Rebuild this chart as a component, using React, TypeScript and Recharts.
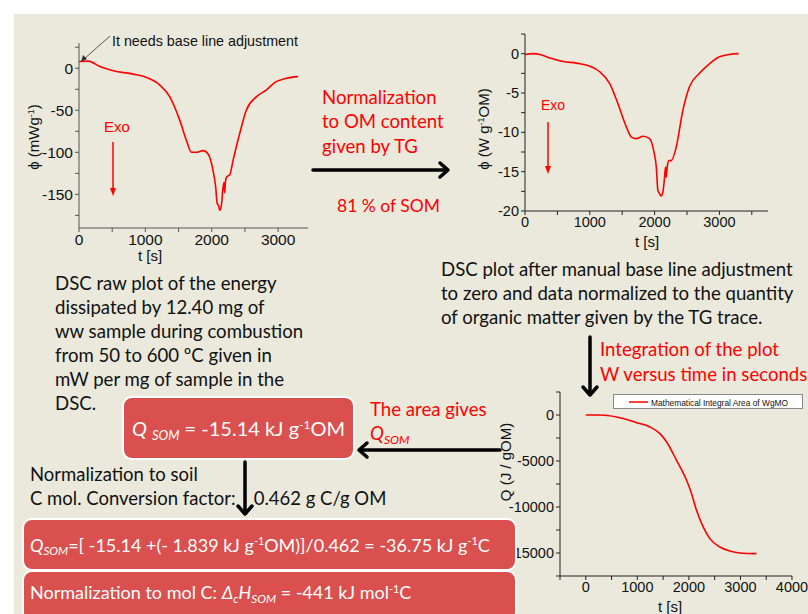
import { Line, LineChart, XAxis, YAxis } from "recharts";
import type { ReactNode } from "react";

const AXIS_FONT = "'Liberation Sans', Arial, sans-serif";
const TEXT_FONT = "Lato, 'Open Sans', sans-serif";
const RED = "#ff0000";
const BOX = "#d9504e";
const BG = "#eae9dc";

// raw DSC trace, mW/g of sample
const rawTime = [0, 140, 315, 516, 817, 1018, 1218, 1368, 1519, 1619, 1694, 1769, 1870, 1945, 2020, 2060, 2080, 2105, 2120, 2145, 2170, 2185, 2195, 2205, 2220, 2245, 2270, 2320, 2420, 2520, 2670, 2820, 2970, 3120, 3300];
const rawPhi = [8, 8.5, 2, -3, -7, -11, -20, -34, -62, -86, -100, -100, -98, -102, -122, -142, -160, -164, -169, -163, -142, -136, -148, -136, -130, -128, -127, -110, -78, -50, -34, -26, -16, -12, -10];

// base line corrected, W/g OM
const omTime = [0, 128, 230, 385, 590, 795, 1000, 1154, 1308, 1436, 1564, 1641, 1718, 1821, 1923, 1985, 2026, 2051, 2077, 2103, 2128, 2154, 2169, 2179, 2195, 2220, 2256, 2333, 2436, 2538, 2692, 2846, 3000, 3154, 3297];
const omPhi = [-0.1, 0, -0.1, -0.55, -1.0, -1.2, -1.6, -2.3, -3.8, -6.4, -9.3, -10.6, -10.8, -10.5, -10.8, -12.3, -14.4, -17.4, -17.8, -18.1, -17.6, -15.7, -14.4, -15.7, -14.4, -13.6, -13.6, -11.9, -7.2, -4.2, -2.5, -1.3, -0.4, -0.1, 0];

// integral, J/g OM
const areaTime = [0, 277, 600, 987, 1245, 1439, 1568, 1761, 1955, 2052, 2148, 2277, 2406, 2600, 2794, 2987, 3310];
const areaQ = [0, 0, -217, -833, -1300, -2030, -2930, -4930, -7100, -8550, -10360, -12170, -13440, -14350, -14780, -15000, -15070];

const rawXTicks = [0, 500, 1000, 1500, 2000, 2500, 3000];
const rawYTicks = [-175, -150, -125, -100, -75, -50, -25, 0, 25];
const omXTicks = [0, 500, 1000, 1500, 2000, 2500, 3000, 3500];
const omYTicks = [-20, -17.5, -15, -12.5, -10, -7.5, -5, -2.5, 0, 2.5];
const areaXTicks = [-500, 0, 500, 1000, 1500, 2000, 2500, 3000, 3500, 4000];
const areaYTicks = [-17500, -15000, -12500, -10000, -7500, -5000, -2500, 0, 2500];

const rawData = rawTime.map((t, i) => ({ t, v: rawPhi[i] }));
const omData = omTime.map((t, i) => ({ t, v: omPhi[i] }));
const areaData = areaTime.map((t, i) => ({ t, v: areaQ[i] }));

const major = (step: number) => (v: number) => (v % step === 0 ? String(v) : "");

function tick(size: number) {
  return { fill: "#111", fontSize: size, fontFamily: AXIS_FONT };
}

const FS = 18.6;

function T({ x, y, size = FS, color = "#111", children, style }: { x: number; y: number; size?: number; color?: string; children: ReactNode; style?: any }) {
  return (
    <div style={{ position: "absolute", left: x, top: y - 12, lineHeight: "24px", fontSize: size, color, fontFamily: TEXT_FONT, whiteSpace: "nowrap", ...style }}>
      {children}
    </div>
  );
}

function AxisLabel({ x, y, rotate, size = 15, children }: { x: number; y: number; rotate?: boolean; size?: number; children: ReactNode }) {
  return (
    <div style={{ position: "absolute", left: x, top: y, transform: `translate(-50%, -50%)${rotate ? " rotate(-90deg)" : ""}`, fontSize: size, lineHeight: 1, fontFamily: AXIS_FONT, color: "#111", whiteSpace: "nowrap" }}>
      {children}
    </div>
  );
}

const sup = { fontSize: "0.6em", position: "relative" as const, top: "-0.6em", verticalAlign: "baseline" };
const sub = { fontSize: "0.65em", position: "relative" as const, top: "0.3em", verticalAlign: "baseline", fontStyle: "italic" };

function Box({ left, top, width, height, children, center }: { left: number; top: number; width: number; height: number; children: ReactNode; center?: boolean }) {
  return (
    <div style={{ position: "absolute", left, top, width, height, boxSizing: "border-box", background: BOX, border: "2px solid #fff", borderRadius: 10, color: "#fff", fontFamily: TEXT_FONT, display: "flex", alignItems: "center", justifyContent: center ? "center" : "flex-start", paddingLeft: center ? 0 : 6, whiteSpace: "nowrap" }}>
      {children}
    </div>
  );
}

export default function App() {
  return (
    <div style={{ position: "absolute", left: 0, top: 0, width: 808, height: 614, background: "#fff", overflow: "hidden" }}>
      <div style={{ position: "absolute", left: 14, top: 14, width: 794, height: 600, background: BG }} />

      {/* raw DSC plot */}
      <div style={{ position: "absolute", left: 14, top: 20 }}>
        <LineChart width={300} height={240} data={rawData} margin={{ top: 23, right: 6, bottom: 2, left: 15 }}>
          <XAxis type="number" dataKey="t" domain={[0, 3450]} ticks={rawXTicks} tickFormatter={major(1000)} interval={0} height={30} stroke="#555" tickSize={4} tick={tick(15.5)} allowDataOverflow />
          <YAxis type="number" dataKey="v" domain={[-190, 30]} ticks={rawYTicks} tickFormatter={major(50)} interval={0} width={50} stroke="#555" tickSize={4} tick={tick(15.5)} allowDataOverflow />
          <Line type="monotone" dataKey="v" stroke={RED} strokeWidth={1.6} dot={false} isAnimationActive={false} />
        </LineChart>
      </div>

      {/* normalized plot */}
      <div style={{ position: "absolute", left: 440, top: 14 }}>
        <LineChart width={340} height={240} data={omData} margin={{ top: 20, right: 12, bottom: 13, left: 35 }}>
          <XAxis type="number" dataKey="t" domain={[0, 3750]} ticks={omXTicks} tickFormatter={major(1000)} interval={0} height={30} stroke="#222" tickSize={4} tick={tick(14.5)} allowDataOverflow />
          <YAxis type="number" dataKey="v" domain={[-20, 2.5]} ticks={omYTicks} tickFormatter={major(5)} interval={0} width={50} stroke="#222" tickSize={4} tick={tick(14.5)} allowDataOverflow />
          <Line type="monotone" dataKey="v" stroke={RED} strokeWidth={1.6} dot={false} isAnimationActive={false} />
        </LineChart>
      </div>

      {/* integral plot */}
      <div style={{ position: "absolute", left: 470, top: 380 }}>
        <LineChart width={338} height={234} data={areaData} margin={{ top: 12, right: 16, bottom: 12, left: 40 }}>
          <XAxis type="number" dataKey="t" domain={[-500, 4000]} ticks={areaXTicks} tickFormatter={(v: number) => (v >= 0 && v % 1000 === 0 ? String(v) : "")} interval={0} height={26} stroke="#222" tickSize={4} tick={tick(14.5)} allowDataOverflow />
          <YAxis type="number" dataKey="v" domain={[-17500, 2500]} ticks={areaYTicks} tickFormatter={major(5000)} interval={0} width={50} stroke="#222" tickSize={4} tick={tick(14.5)} allowDataOverflow />
          <Line type="monotone" dataKey="v" stroke={RED} strokeWidth={1.6} dot={false} isAnimationActive={false} />
        </LineChart>
      </div>

      <AxisLabel x={150} y={255}>t [s]</AxisLabel>
      <AxisLabel x={33} y={137} rotate>ϕ (mWg<span style={sup}>-1</span>)</AxisLabel>
      <AxisLabel x={647} y={241}>t [s]</AxisLabel>
      <AxisLabel x={483} y={129} rotate>ϕ (W g<span style={sup}>-1</span>OM)</AxisLabel>
      <AxisLabel x={670} y={606}>t [s]</AxisLabel>
      <AxisLabel x={505} y={462} rotate>Q (J / gOM)</AxisLabel>

      <div style={{ position: "absolute", left: 112, top: 33, fontSize: 14.3, fontFamily: AXIS_FONT, color: "#111", whiteSpace: "nowrap" }}>It needs base line adjustment</div>
      <div style={{ position: "absolute", left: 104, top: 118, fontSize: 15, fontFamily: AXIS_FONT, color: RED }}>Exo</div>
      <div style={{ position: "absolute", left: 541, top: 97, fontSize: 14, fontFamily: AXIS_FONT, color: RED }}>Exo</div>

      {/* legend of the integral plot */}
      <svg width={191} height={16} style={{ position: "absolute", left: 613, top: 394 }}>
        <rect x={0.5} y={0.5} width={189} height={14} fill="#fff" stroke="#888" />
        <line x1={16} y1={8} x2={35} y2={8} stroke={RED} strokeWidth={1.5} />
        <text x={38} y={11.5} fontSize={9} fontFamily={AXIS_FONT} fill="#111" textLength={137} lengthAdjust="spacingAndGlyphs">Mathematical Integral Area of WgMO</text>
      </svg>

      <T x={322} y={97} color={RED}>Normalization</T>
      <T x={322} y={121} color={RED}>to OM content</T>
      <T x={322} y={146} color={RED}>given by TG</T>
      <T x={337} y={206} color={RED} size={17.5}>81 % of SOM</T>

      <T x={55} y={283}>DSC raw plot of the energy</T>
      <T x={55} y={307}>dissipated by 12.40 mg of</T>
      <T x={55} y={331}>ww sample during combustion</T>
      <T x={55} y={355}>from 50 to 600 ºC given in</T>
      <T x={55} y={379}>mW per mg of sample in the</T>
      <T x={55} y={403}>DSC.</T>

      <T x={441} y={269}>DSC plot after manual base line adjustment</T>
      <T x={441} y={293}>to zero and data normalized to the quantity</T>
      <T x={441} y={317}>of organic matter given by the TG trace.</T>

      <T x={600} y={349} color={RED}>Integration of the plot</T>
      <T x={600} y={374} color={RED}>W versus time in seconds</T>

      <T x={370} y={409} color={RED}>The area gives</T>
      <T x={370} y={433} color={RED}><i>Q</i><span style={sub}>SOM</span></T>

      <T x={30} y={474} size={18.5}>Normalization to soil</T>
      <T x={30} y={498} size={18.5}>C mol. Conversion factor:<span style={{ marginLeft: 18 }}>0.462 g C/g OM</span></T>

      <Box left={122} top={396} width={233} height={64} center>
        <span style={{ fontSize: 20 }}><i>Q</i> <span style={sub}>SOM</span> = -15.14 kJ g<span style={sup}>-1</span>OM</span>
      </Box>
      <Box left={22} top={518} width={495} height={53}>
        <span style={{ fontSize: 18 }}><i>Q</i><span style={sub}>SOM</span>=[ -15.14 +(- 1.839 kJ g<span style={sup}>-1</span>OM)]/0.462 = -36.75 kJ g<span style={sup}>-1</span>C</span>
      </Box>
      <Box left={22} top={570} width={495} height={52}>
        <span style={{ fontSize: 18, position: "relative", top: -4 }}>Normalization to mol C: <i>Δ</i><span style={sub}>c</span><i>H</i><span style={sub}>SOM</span> = -441 kJ mol<span style={sup}>-1</span>C</span>
      </Box>

      <svg width={808} height={614} style={{ position: "absolute", left: 0, top: 0, pointerEvents: "none" }}>
        <line x1={110} y1={36} x2={84} y2={59} stroke="#555" strokeWidth={1} />
        <polygon points="81,62 83,55 87,59" fill="#333" />
        <line x1={113} y1={142} x2={113} y2={190} stroke={RED} strokeWidth={1.5} />
        <polygon points="110,188 116,188 113,196" fill={RED} />
        <line x1={548} y1={122} x2={548} y2={167} stroke={RED} strokeWidth={1.5} />
        <polygon points="545,166 551,166 548,174" fill={RED} />
        <g stroke="#000" strokeWidth={3.5} fill="none" strokeLinecap="round" strokeLinejoin="round">
          <line x1={313} y1={170} x2={447} y2={170} />
          <polyline points="440,163 448,170 440,177" />
          <line x1={590} y1={337} x2={590} y2={394} />
          <polyline points="583,387 590,395 597,387" />
          <line x1={500} y1={450} x2={360} y2={450} />
          <polyline points="367,443 359,450 367,457" />
          <line x1={245} y1={462} x2={245} y2={513} />
          <polyline points="238,506 245,514 252,506" />
        </g>
      </svg>
    </div>
  );
}
